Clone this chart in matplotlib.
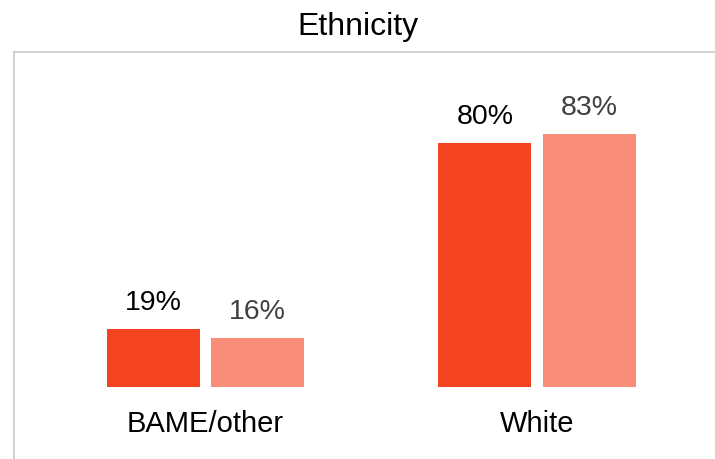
import matplotlib.pyplot as plt
import numpy as np

plt.rcParams["font.family"] = ["Liberation Sans", "DejaVu Sans"]

categories = ["BAME/other", "White"]
series_a = [19, 80]
series_b = [16, 83]

COL_A = "#F44321"
COL_B = "#F98D7A"
FRAME = "#C8C8C8"

fig = plt.figure(figsize=(7.15, 4.6), dpi=100, facecolor="white")
ax = fig.add_axes([14 / 715, 0, 702 / 715, 1 - 53 / 460])

x = np.arange(len(categories))
w = 0.2805
off = 0.157
bars_a = ax.bar(x - off, series_a, width=w, color=COL_A)
bars_b = ax.bar(x + off, series_b, width=w, color=COL_B)

for b, v in zip(bars_a, series_a):
    ax.annotate(f"{v}%", (b.get_x() + b.get_width() / 2, v), xytext=(0, 10),
                textcoords="offset points", ha="center", va="bottom",
                fontsize=20.5, color="#000000")
for b, v in zip(bars_b, series_b):
    ax.annotate(f"{v}%", (b.get_x() + b.get_width() / 2, v), xytext=(0, 10),
                textcoords="offset points", ha="center", va="bottom",
                fontsize=20.5, color="#404040")

for xi, c in zip(x, categories):
    ax.text(xi, -11.8, c, ha="center", va="center", fontsize=21, color="#000000")

ax.set_xlim(-0.578, 1.54)
ax.set_ylim(-23.7, 109.8)
ax.set_xticks([])
ax.set_yticks([])
for s in ["right", "bottom"]:
    ax.spines[s].set_visible(False)
for s in ["top", "left"]:
    ax.spines[s].set_color(FRAME)
    ax.spines[s].set_linewidth(1.2)

fig.text(0.5, 1 - 27 / 460, "Ethnicity", ha="center", va="center", fontsize=23, color="#000000")

fig.savefig("out.png", dpi=100, facecolor="white")
